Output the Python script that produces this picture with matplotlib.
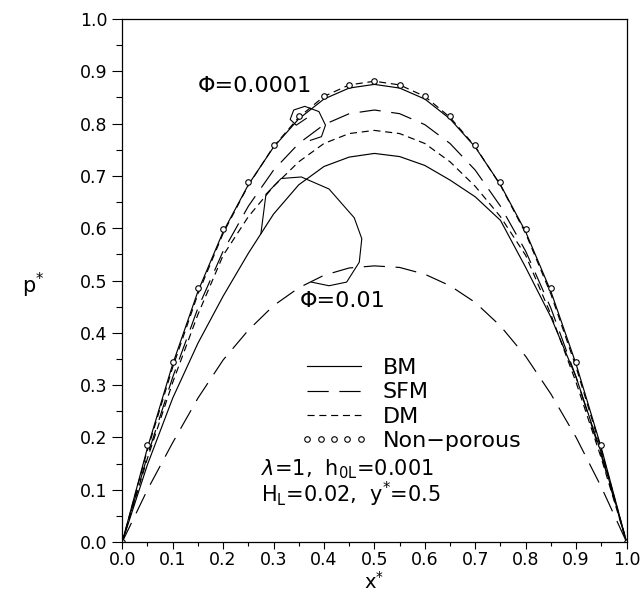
import matplotlib
matplotlib.use("Agg")
import matplotlib.pyplot as plt
from matplotlib.ticker import MultipleLocator, FormatStrFormatter

# ---------------- data ----------------
x_star = [0.00, 0.05, 0.10, 0.15, 0.20, 0.25, 0.30, 0.35, 0.40, 0.45, 0.50,
          0.55, 0.60, 0.65, 0.70, 0.75, 0.80, 0.85, 0.90, 0.95, 1.00]

p_nonporous = [0, 0.185, 0.345, 0.485, 0.598, 0.688, 0.760, 0.814, 0.852, 0.874, 0.882,
               0.874, 0.852, 0.814, 0.760, 0.688, 0.598, 0.485, 0.345, 0.185, 0]
# Phi = 0.0001
p_bm_small = [0, 0.180, 0.340, 0.479, 0.593, 0.683, 0.755, 0.809, 0.847, 0.868, 0.875,
              0.868, 0.847, 0.809, 0.755, 0.683, 0.593, 0.479, 0.340, 0.180, 0]
p_sfm_small = [0, 0.165, 0.315, 0.447, 0.556, 0.642, 0.711, 0.762, 0.798, 0.819, 0.826,
               0.819, 0.798, 0.762, 0.711, 0.642, 0.556, 0.447, 0.315, 0.165, 0]
p_dm_small = [0, 0.176, 0.334, 0.474, 0.590, 0.682, 0.756, 0.812, 0.852, 0.874, 0.881,
              0.874, 0.852, 0.812, 0.756, 0.682, 0.590, 0.474, 0.334, 0.176, 0]
# Phi = 0.01
p_bm_large = [0, 0.148, 0.275, 0.380, 0.470, 0.552, 0.627, 0.683, 0.718, 0.736, 0.743,
              0.737, 0.720, 0.692, 0.660, 0.615, 0.525, 0.430, 0.315, 0.170, 0]
p_sfm_large = [0, 0.100, 0.190, 0.275, 0.348, 0.405, 0.452, 0.486, 0.510, 0.524, 0.528,
               0.525, 0.512, 0.490, 0.458, 0.413, 0.355, 0.283, 0.200, 0.105, 0]
p_dm_large = [0, 0.160, 0.305, 0.435, 0.548, 0.622, 0.680, 0.727, 0.762, 0.781, 0.787,
              0.781, 0.762, 0.727, 0.680, 0.622, 0.548, 0.435, 0.305, 0.160, 0]

# hand-drawn label pointers (curls)
curl_small_x = [0.365, 0.345, 0.333, 0.340, 0.362, 0.390, 0.403, 0.395, 0.373]
curl_small_y = [0.810, 0.797, 0.808, 0.826, 0.833, 0.823, 0.797, 0.775, 0.768]
curl_large_x = [0.275, 0.285, 0.315, 0.355, 0.410, 0.460, 0.475, 0.470, 0.445, 0.410, 0.375]
curl_large_y = [0.590, 0.665, 0.695, 0.698, 0.675, 0.620, 0.580, 0.535, 0.497, 0.490, 0.497]

xticks = [0.0, 0.1, 0.2, 0.3, 0.4, 0.5, 0.6, 0.7, 0.8, 0.9, 1.0]
yticks = [0.0, 0.1, 0.2, 0.3, 0.4, 0.5, 0.6, 0.7, 0.8, 0.9, 1.0]

# ---------------- plot ----------------
plt.rcParams['font.family'] = ['DejaVu Sans']
plt.rcParams['mathtext.fontset'] = 'dejavusans'

fig = plt.figure(figsize=(6.40, 5.94), dpi=100)
ax = fig.add_axes([0.191, 0.0875, 0.788, 0.8805])

lw = 0.85
k = 'black'
long_dash = (0, (18, 9))
short_dash = (0, (6, 4))

l_bm, = ax.plot(x_star, p_bm_small, color=k, lw=lw, ls='-', label='BM')
ax.plot(x_star, p_bm_large, color=k, lw=lw, ls='-')
l_sfm, = ax.plot(x_star, p_sfm_small, color=k, lw=lw, ls=long_dash, label='SFM')
ax.plot(x_star, p_sfm_large, color=k, lw=lw, ls=long_dash)
l_dm, = ax.plot(x_star, p_dm_small, color=k, lw=lw, ls=short_dash, label='DM')
ax.plot(x_star, p_dm_large, color=k, lw=lw, ls=short_dash)
l_np, = ax.plot(x_star, p_nonporous, ls='none', marker='o', ms=4, mfc='white',
                mec=k, mew=0.8, label='Non\u2212porous')

ax.plot(curl_small_x, curl_small_y, color=k, lw=0.8)
ax.plot(curl_large_x, curl_large_y, color=k, lw=0.8)

txt = 16
ax.text(0.150, 0.872, '\u03A6=0.0001', fontsize=txt, va='center', ha='left')
ax.text(0.352, 0.460, '\u03A6=0.01', fontsize=txt, va='center', ha='left')

leg = ax.legend(handles=[l_bm, l_sfm, l_dm, l_np], loc='upper left',
                bbox_to_anchor=(0.354, 0.352), frameon=False, fontsize=txt,
                numpoints=5, handlelength=3.0, handletextpad=0.7,
                labelspacing=0.2, borderpad=0, borderaxespad=0)

ax.text(0.276, 0.140, r'$\lambda$=1,  h$_{\mathrm{0L}}$=0.001', fontsize=15,
        va='center', ha='left')
ax.text(0.276, 0.092, r'H$_{\mathrm{L}}$=0.02,  y$^{*}$=0.5', fontsize=15,
        va='center', ha='left')

ax.set_xlim(0, 1)
ax.set_ylim(0, 1)
ax.set_xticks(xticks)
ax.set_yticks(yticks)
ax.xaxis.set_major_formatter(FormatStrFormatter('%.1f'))
ax.yaxis.set_major_formatter(FormatStrFormatter('%.1f'))
ax.xaxis.set_minor_locator(MultipleLocator(0.05))
ax.yaxis.set_minor_locator(MultipleLocator(0.05))
ax.tick_params(which='major', length=7, width=0.8, labelsize=12.5, direction='out')
ax.tick_params(axis='x', which='major', length=5, pad=1.5)
ax.tick_params(which='minor', length=4, width=0.8, direction='out')
ax.tick_params(axis='x', which='minor', length=3)
for s in ax.spines.values():
    s.set_linewidth(0.9)

ax.set_xlabel('x$^{*}$', fontsize=14)
ax.xaxis.set_label_coords(0.5, -0.0966)
ax.xaxis.label.set_va('bottom')
ax.set_ylabel('p$^{*}$', fontsize=15, rotation=0)
ax.yaxis.set_label_coords(-0.177, 0.49)
ax.yaxis.label.set_va('center')
ax.yaxis.label.set_ha('center')

fig.savefig('out.png', dpi=100)
